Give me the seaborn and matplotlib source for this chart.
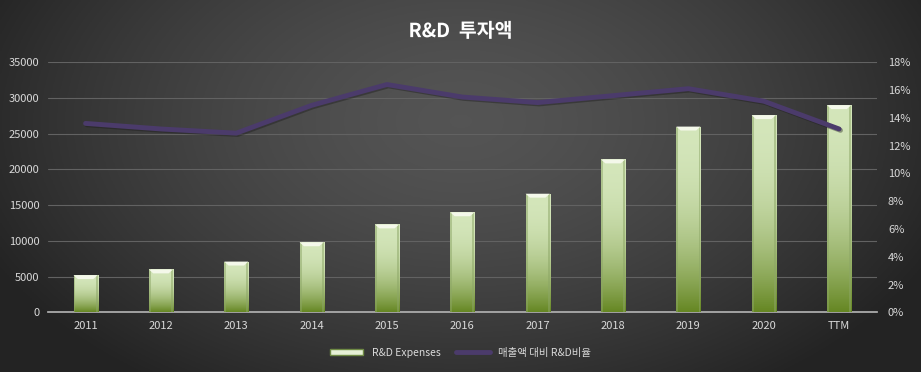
import numpy as np
import pandas as pd
import seaborn as sns
import matplotlib.pyplot as plt
import matplotlib.patheffects as pe
from matplotlib.patches import Patch
from matplotlib.lines import Line2D
from matplotlib.ticker import FuncFormatter

# data
years = ['2011', '2012', '2013', '2014', '2015', '2016', '2017', '2018', '2019', '2020', 'TTM']
rd_expenses = [5200, 6000, 7100, 9800, 12300, 14000, 16600, 21400, 26000, 27600, 29000]
rd_ratio = [13.6, 13.2, 12.9, 14.9, 16.4, 15.5, 15.1, 15.6, 16.1, 15.2, 13.2]

sns.set_theme(style='dark')
plt.rcParams['font.family'] = ['Noto Sans CJK KR', 'DejaVu Sans']

fig = plt.figure(figsize=(9.21, 3.72), dpi=100)

# dark radial background
bg = fig.add_axes([0, 0, 1, 1], zorder=-10)
yy, xx = np.mgrid[-1:1:200j, -1:1:400j]
r = np.sqrt((xx / 1.05) ** 2 + ((yy + 0.35) / 1.6) ** 2)
shade = np.clip(0.33 - 0.17 * r ** 1.5, 0.14, 0.35)
bg.imshow(np.dstack([shade] * 3), aspect='auto', extent=[0, 1, 0, 1])
bg.axis('off')

ax = fig.add_axes([0.052, 0.1605, 0.9, 0.672])
ax.set_facecolor('none')

df = pd.DataFrame({'year': years, 'rd': rd_expenses})
sns.barplot(data=df, x='year', y='rd', ax=ax, width=0.32, color='#b5cf90',
            edgecolor='none', zorder=3)

# green gradient inside each bar, light for most of the height
grad = np.linspace(0, 1, 100) ** 2.2
top_c = np.array([0.83, 0.90, 0.73])
bot_c = np.array([0.40, 0.53, 0.14])
img = top_c * (1 - grad[:, None]) + bot_c * grad[:, None]
img = img.reshape(100, 1, 3)
side = np.array([0.55, 0.65, 0.40])
for bar in ax.patches:
    x0, y0 = bar.get_x(), bar.get_y()
    w, h = bar.get_width(), bar.get_height()
    im = ax.imshow(img, extent=[x0, x0 + w, y0, y0 + h], aspect='auto', zorder=4)
    im.set_clip_path(bar)
    # darker bevel sides and a bright top bevel
    ax.fill([x0, x0 + w * 0.08, x0 + w * 0.08, x0], [0, 0, h, h],
            color=side, alpha=0.5, zorder=5, lw=0)
    ax.fill([x0 + w, x0 + w * 0.92, x0 + w * 0.92, x0 + w], [0, 0, h, h],
            color=side, alpha=0.5, zorder=5, lw=0)
    ax.fill([x0, x0 + w, x0 + w * 0.82, x0 + w * 0.18],
            [h, h, h - 550, h - 550], color='#f4f8ea', zorder=6, lw=0)

ax.set_xlim(-0.5, len(years) - 0.5)
ax.set_ylim(0, 35000)
ax.set_yticks(range(0, 35001, 5000))
ax.grid(axis='y', color='#626262', lw=0.8)
ax.grid(axis='x', visible=False)
ax.set_axisbelow(True)
ax.set_xlabel('')
ax.set_ylabel('')
for s in ['top', 'right', 'left']:
    ax.spines[s].set_visible(False)
ax.spines['bottom'].set_color('#b0b0b0')
ax.tick_params(colors='#d9d9d9', labelsize=8, length=0, pad=6)

ax2 = ax.twinx()
sns.lineplot(x=np.arange(len(years)), y=rd_ratio, ax=ax2, color='#4b3b6b', lw=3.5,
             zorder=7, path_effects=[pe.SimpleLineShadow(offset=(1, -1), alpha=0.4),
                                     pe.Normal()])
ax2.set_ylim(0, 18)
ax2.set_yticks(range(0, 19, 2))
ax2.yaxis.set_major_formatter(FuncFormatter(lambda v, p: f'{int(v)}%'))
ax2.tick_params(colors='#d9d9d9', labelsize=8, length=0, pad=8)
ax2.grid(False)
for s in ax2.spines.values():
    s.set_visible(False)

fig.text(0.5, 0.915, 'R&D  투자액', ha='center', va='center', color='white',
         fontsize=14, fontweight='bold',
         path_effects=[pe.withSimplePatchShadow(offset=(1.5, -1.5), alpha=0.6)])

handles = [Patch(facecolor='#e6f0d6', edgecolor='#6f8a45', lw=1),
           Line2D([0], [0], color='#4b3b6b', lw=3.5)]
leg = fig.legend(handles, ['R&D Expenses', '매출액 대비 R&D비율'], loc='center',
                 bbox_to_anchor=(0.5, 0.052), ncol=2, frameon=False, fontsize=7.5,
                 handlelength=3.2, handleheight=0.5, columnspacing=1.5)
for t in leg.get_texts():
    t.set_color('#d9d9d9')

fig.savefig('out.png', dpi=100)
